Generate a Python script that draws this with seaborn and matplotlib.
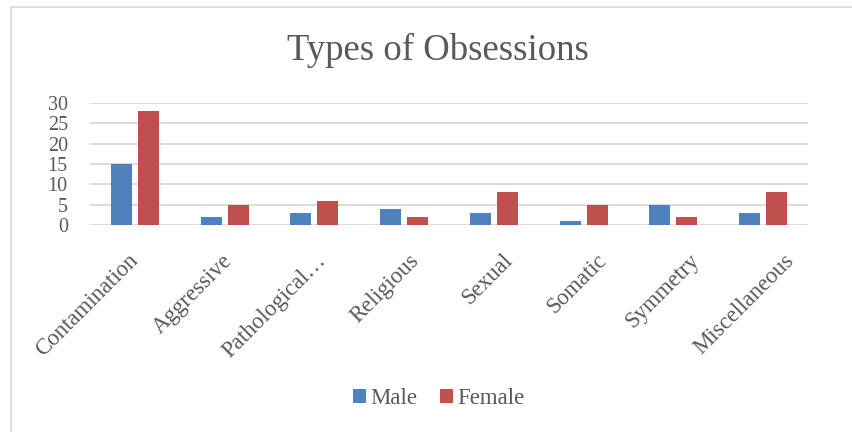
import matplotlib
matplotlib.use("Agg")
import matplotlib.pyplot as plt
from matplotlib.patches import Patch
from matplotlib.lines import Line2D
from matplotlib.transforms import ScaledTranslation
import pandas as pd
import seaborn as sns

categories = ["Contamination", "Aggressive", "Pathological…", "Religious",
              "Sexual", "Somatic", "Symmetry", "Miscellaneous"]
male = [15, 2, 3, 4, 3, 1, 5, 3]
female = [28, 5, 6, 2, 8, 5, 2, 8]
series = ["Male", "Female"]
colors = {"Male": "#4F81BD", "Female": "#C0504D"}
y_ticks = [0, 5, 10, 15, 20, 25, 30]

df = pd.DataFrame({
    "Type": categories * 2,
    "Count": male + female,
    "Sex": ["Male"] * len(categories) + ["Female"] * len(categories),
})

sns.set_theme(style="white")
plt.rcParams["font.family"] = ["Liberation Serif", "DejaVu Serif"]
text_color = "#595959"
grid_color = "#D9D9D9"

W, H = 852, 432
fig = plt.figure(figsize=(W / 100, H / 100), dpi=100)
ax = fig.add_axes([90 / W, 1 - 225 / H, (808 - 90) / W, (225 - 103) / H])

sns.barplot(data=df, x="Type", y="Count", hue="Sex", hue_order=series,
            palette=colors, width=0.6, gap=0.22, ax=ax, legend=False,
            saturation=1, edgecolor="none")

ax.set_ylim(0, 30)
ax.set_yticks(y_ticks)
ax.set_xlim(-0.5, len(categories) - 0.5)
ax.set_xlabel("")
ax.set_ylabel("")
for s in ax.spines.values():
    s.set_visible(False)
ax.yaxis.grid(True, color=grid_color, linewidth=1.3)
ax.set_axisbelow(True)
ax.tick_params(axis="y", length=0, colors=text_color, labelsize=14.5, pad=16)
ax.tick_params(axis="x", length=0, colors=text_color, labelsize=16.5, pad=18)
ax.set_xticks(range(len(categories)))
ax.set_xticklabels(categories, rotation=45, ha="right", rotation_mode="anchor")

# rotated category labels drift slightly right across the axis
for i, lbl in enumerate(ax.get_xticklabels()):
    dx = (-7 + 3.85 * i) / 100
    lbl.set_transform(lbl.get_transform() + ScaledTranslation(dx, 0, fig.dpi_scale_trans))

fig.text(438 / W, 1 - 50 / H, "Types of Obsessions", ha="center", va="center",
         fontsize=26.5, color=text_color)

handles = [Patch(facecolor=colors[s], edgecolor="none", label=s) for s in series]
leg = fig.legend(handles=handles, loc="center", bbox_to_anchor=(439 / W, 1 - 399 / H),
                 ncol=2, frameon=False, fontsize=16.5, handlelength=0.55,
                 handleheight=0.55, handletextpad=0.2, columnspacing=1.0)
for t in leg.get_texts():
    t.set_color(text_color)

# chart frame (left and top edges)
fig.add_artist(Line2D([10.5 / W, 10.5 / W], [0, 1 - 7 / H], color=grid_color, linewidth=1.2))
fig.add_artist(Line2D([10.5 / W, 1], [1 - 7 / H, 1 - 7 / H], color=grid_color, linewidth=1.2))

fig.savefig("out.png", dpi=100)
